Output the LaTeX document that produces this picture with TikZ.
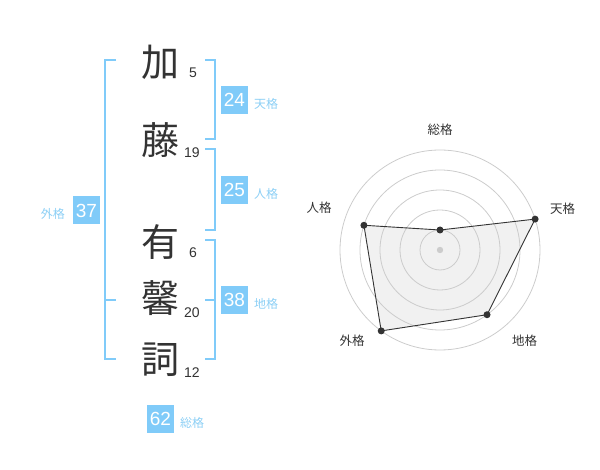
\documentclass[tikz,border=0pt]{standalone}
\usepackage{fontspec}
\setmainfont{Liberation Sans}
\newfontfamily\jp{Noto Sans CJK JP}
\definecolor{kakublue}{HTML}{80CBF9}
\definecolor{kakutext}{HTML}{8CCFF5}
\definecolor{ink}{HTML}{333333}
\definecolor{gridgray}{HTML}{CCCCCC}
\definecolor{areagray}{HTML}{F1F1F1}
\tikzset{
  kanji/.style={font=\jp\fontsize{38}{38}\selectfont, text=ink, inner sep=0pt},
  strokes/.style={font=\fontsize{14}{14}\selectfont, text=ink, inner sep=0pt},
  numbox/.style={fill=kakublue, text=white, minimum width=27pt, minimum height=28pt, inner sep=0pt, font=\fontsize{19}{19}\selectfont},
  kaku/.style={font=\jp\fontsize{12}{12}\selectfont, text=kakutext, inner sep=0pt},
  axislabel/.style={font=\jp\fontsize{12.5}{12.5}\selectfont, text=ink, inner sep=0pt},
  bracket/.style={draw=kakublue, line width=2pt},
}
\begin{document}
\begin{tikzpicture}[x=1pt, y=-1pt]
				\useasboundingbox (0,0) rectangle (600,470);
				
				% Name characters
				\node[kanji] (k1) at (160,62) {加};
				\node[kanji] (k2) at (160,140) {藤};
				\node[kanji] (k3) at (160,242) {有};
				\node[kanji] (k4) at (160,298) {馨};
				\node[kanji] (k5) at (160,360) {詞};
				
				% Stroke counts
				\node[strokes] (s1) at (193,73) {5};
				\node[strokes] (s2) at (192,153) {19};
				\node[strokes] (s3) at (193,253) {6};
				\node[strokes] (s4) at (192,313) {20};
				\node[strokes] (s5) at (192,373) {12};
				
				% Brackets
				\draw[bracket] (116,60) -- (105,60) -- (105,359) -- (116,359);
				\draw[bracket] (105,300) -- (116,300);
				\draw[bracket] (205,60) -- (215,60) -- (215,139) -- (205,139);
				\draw[bracket] (205,149) -- (215,149) -- (215,230) -- (205,230);
				\draw[bracket] (205,240) -- (215,240) -- (215,359) -- (205,359);
				\draw[bracket] (205,300) -- (215,300);
				
				% Totals and their names
				\node[numbox] (ten) at (234.5,100) {24};
				\node[kaku, anchor=west] (tenl) at (254,104) {天格};
				\node[numbox] (jin) at (234.5,190) {25};
				\node[kaku, anchor=west] (jinl) at (254,194) {人格};
				\node[numbox] (chi) at (234.5,300) {38};
				\node[kaku, anchor=west] (chil) at (254,304) {地格};
				\node[numbox] (gai) at (86.5,210.5) {37};
				\node[kaku, anchor=east] (gail) at (65,214) {外格};
				\node[numbox] (sou) at (160.5,418.5) {62};
				\node[kaku, anchor=west] (soul) at (180,423) {総格};
				
				% Radar chart
				\begin{scope}[shift={(440,250)}, yscale=-1]
					\coordinate (c) at (0,0);
					\coordinate (p1) at (90:20);
					\coordinate (p2) at (18:100);
					\coordinate (p3) at (-54:80);
					\coordinate (p4) at (-126:100);
					\coordinate (p5) at (162:80);
					
					\fill[areagray] (p1) -- (p2) -- (p3) -- (p4) -- (p5) -- cycle;
					\foreach \r in {20,40,...,100}
						\draw[gridgray, line width=0.8pt] (c) circle[radius=\r];
					\draw[ink, line width=0.9pt] (p1) -- (p2) -- (p3) -- (p4) -- (p5) -- cycle;
					\foreach \i in {1,...,5}
						\fill[ink] (p\i) circle[radius=3.5];
					\fill[gridgray] (c) circle[radius=3.2];
					
					% Axis labels
					\node[axislabel] (l1) at (0,120) {総格};
					\node[axislabel] (l2) at (122.5,41.7) {天格};
					\node[axislabel] (l3) at (84.5,-91) {地格};
					\node[axislabel] (l4) at (-88,-91) {外格};
					\node[axislabel] (l5) at (-121,42) {人格};
				\end{scope}
				
			\end{tikzpicture}
\end{document}
